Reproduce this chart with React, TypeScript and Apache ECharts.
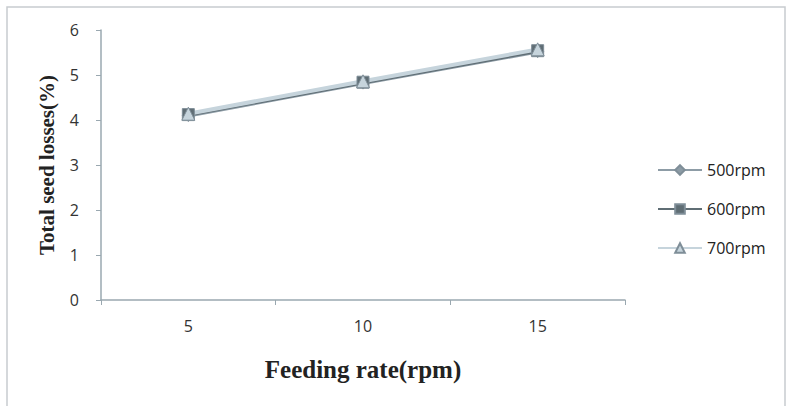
import React, { useEffect, useRef } from "react";
import * as echarts from "echarts";

const categories = ["5", "10", "15"];
const series500 = [4.1, 4.82, 5.52];
const series600 = [4.12, 4.84, 5.54];
const series700 = [4.14, 4.86, 5.57];
const seriesNames = ["500rpm", "600rpm", "700rpm"];
const yTicks = [0, 6, 1];

export default function App() {
  const ref = useRef<HTMLDivElement>(null);

  useEffect(() => {
    if (!ref.current) return;
    const chart = echarts.init(ref.current, undefined, { renderer: "svg" });
    const labelFont = "'Open Sans', 'Noto Sans', sans-serif";
    const titleFont = "'Liberation Serif', 'DejaVu Serif', serif";
    const mk = (name: string, data: number[], color: string, symbol: string, size: number) => ({
      name,
      type: "line",
      data,
      symbol,
      symbolSize: size,
      lineStyle: { color, width: 4 },
      itemStyle: { color, borderColor: "#7f8e98", borderWidth: 1 },
    });
    chart.setOption({
      animation: false,
      backgroundColor: "#ffffff",
      graphic: [
        {
          type: "rect",
          shape: { x: 7, y: 7, width: 778, height: 410 },
          style: { fill: "none", stroke: "#c8cccf", lineWidth: 1.5 },
          silent: true,
        },
      ],
      grid: { left: 101, right: 164, top: 30, bottom: 106 },
      legend: {
        orient: "vertical",
        left: 652,
        top: 157,
        itemGap: 23,
        itemWidth: 44,
        itemHeight: 12,
        data: seriesNames,
        textStyle: { fontFamily: labelFont, fontSize: 16, color: "#222" },
      },
      xAxis: {
        type: "category",
        data: categories,
        boundaryGap: true,
        name: "Feeding rate(rpm)",
        nameLocation: "middle",
        nameGap: 57,
        nameTextStyle: { fontFamily: titleFont, fontWeight: "bold", fontSize: 25, color: "#222" },
        axisLine: { lineStyle: { color: "#9aa8b0", width: 1.5 } },
        axisTick: { show: true, length: 5, lineStyle: { color: "#9aa8b0" } },
        axisLabel: { fontFamily: labelFont, fontSize: 16, color: "#333", margin: 18 },
      },
      yAxis: {
        type: "value",
        min: yTicks[0],
        max: yTicks[1],
        interval: yTicks[2],
        name: "Total seed losses(%)",
        nameLocation: "middle",
        nameGap: 44,
        nameTextStyle: { fontFamily: titleFont, fontWeight: "bold", fontSize: 21, color: "#222" },
        splitLine: { show: false },
        axisLine: { show: true, lineStyle: { color: "#9aa8b0", width: 1.5 } },
        axisTick: { show: true, length: 5, lineStyle: { color: "#9aa8b0" } },
        axisLabel: { fontFamily: labelFont, fontSize: 16, color: "#333", margin: 22 },
      },
      series: [
        mk(seriesNames[0], series500, "#8d9ca6", "diamond", 12),
        mk(seriesNames[1], series600, "#5f6d74", "rect", 12),
        mk(seriesNames[2], series700, "#c6d4dc", "triangle", 13),
      ],
    });
    return () => chart.dispose();
  }, []);

  return (
    <div
      ref={ref}
      style={{ position: "fixed", left: 0, top: 0, width: 789, height: 406 }}
    />
  );
}
